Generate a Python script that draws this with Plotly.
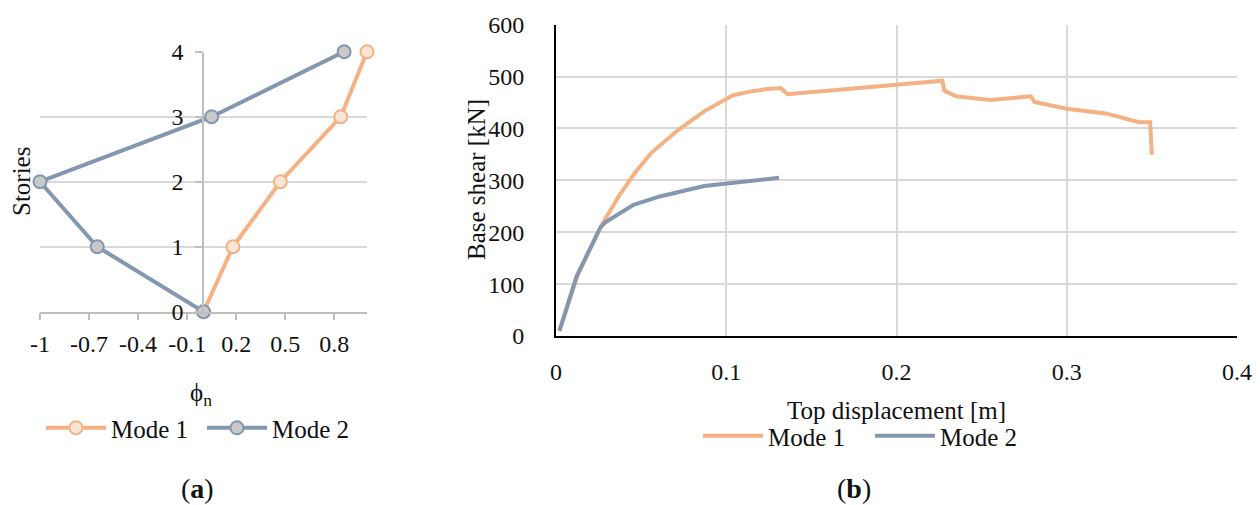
import plotly.graph_objects as go

# ---------------- data ----------------
stories = [0, 1, 2, 3, 4]
phi_mode1 = [0.0, 0.18, 0.47, 0.84, 1.0]
phi_mode2 = [0.0, -0.65, -1.0, 0.05, 0.86]
phi_ticks = [-1, -0.7, -0.4, -0.1, 0.2, 0.5, 0.8]
story_ticks = [0, 1, 2, 3, 4]

disp_mode1 = [0.002, 0.013, 0.027, 0.037, 0.0465, 0.056, 0.071, 0.087, 0.104, 0.114,
              0.124, 0.132, 0.136, 0.227, 0.228, 0.235, 0.255, 0.279, 0.281, 0.300,
              0.323, 0.3425, 0.349, 0.350]
shear_mode1 = [10, 120, 215, 270, 315, 353, 395, 433, 464, 471,
               476, 478, 466, 492, 473, 462, 455, 462, 451, 438,
               429, 412, 412, 349]
disp_mode2 = [0.002, 0.012, 0.026, 0.029, 0.0455, 0.061, 0.087, 0.100, 0.131]
shear_mode2 = [10, 114, 209, 219, 253, 269, 289, 294, 305]

disp_ticks = [0, 0.1, 0.2, 0.3, 0.4]
shear_ticks = [0, 100, 200, 300, 400, 500, 600]

ORANGE = "#F4B183"
ORANGE_FILL = "#FBE5D6"
BLUE = "#8497B0"
GRAY_FILL = "#C9C9C9"
FONT = "Liberation Serif"
TXT = "#111111"
W, H = 1260, 505

def px_x(p):
    return p / W

def px_y(p):
    return 1 - p / H

fig = go.Figure()

# ---------- panel (a) ----------
fig.add_trace(go.Scatter(
    x=phi_mode1, y=stories, mode="lines+markers", name="Mode 1",
    line=dict(color=ORANGE, width=4),
    marker=dict(size=13, color=ORANGE_FILL, line=dict(color=ORANGE, width=2)),
    xaxis="x", yaxis="y", legend="legend", cliponaxis=False))
fig.add_trace(go.Scatter(
    x=phi_mode2, y=stories, mode="lines+markers", name="Mode 2",
    line=dict(color=BLUE, width=4),
    marker=dict(size=13, color=GRAY_FILL, line=dict(color=BLUE, width=2)),
    xaxis="x", yaxis="y", legend="legend", cliponaxis=False))

# ---------- panel (b) ----------
fig.add_trace(go.Scatter(
    x=disp_mode1, y=shear_mode1, mode="lines", name="Mode 1",
    line=dict(color=ORANGE, width=4),
    xaxis="x2", yaxis="y2", legend="legend2", cliponaxis=False))
fig.add_trace(go.Scatter(
    x=disp_mode2, y=shear_mode2, mode="lines", name="Mode 2",
    line=dict(color=BLUE, width=4),
    xaxis="x2", yaxis="y2", legend="legend2", cliponaxis=False))

tickfont = dict(family=FONT, size=24, color=TXT)
labfont = dict(family=FONT, size=25, color=TXT)

def label(text, x, y, angle=0, font=labfont):
    return dict(text=text, x=px_x(x), y=px_y(y), xref="paper", yref="paper",
                xanchor="center", yanchor="middle", textangle=angle,
                showarrow=False, font=font)

fig.update_layout(
    width=W, height=H,
    margin=dict(l=0, r=0, t=0, b=0, autoexpand=False),
    paper_bgcolor="white", plot_bgcolor="white",
    font=dict(family=FONT, size=24, color=TXT),
    xaxis=dict(
        domain=[px_x(40), px_x(367)], anchor="y", range=[-1, 1], automargin=False,
        tickmode="array", tickvals=phi_ticks, ticktext=[str(v) for v in phi_ticks],
        showgrid=False, zeroline=False, showline=True, linecolor="#BFBFBF", linewidth=1.5,
        ticks="outside", ticklen=7, tickwidth=1.5, tickcolor="#BFBFBF",
        tickfont=tickfont, ticklabelstandoff=3),
    yaxis=dict(
        domain=[px_y(311.7), px_y(51.7)], anchor="free", position=px_x(203),
        range=[0, 4], tickmode="array", tickvals=story_ticks, automargin=False,
        showgrid=True, gridcolor="#D9D9D9", gridwidth=1.5, zeroline=False,
        showline=True, linecolor="#BFBFBF", linewidth=1.5,
        ticks="outside", ticklen=7, tickwidth=1.5, tickcolor="#BFBFBF",
        tickfont=tickfont, ticklabelstandoff=7),
    xaxis2=dict(
        domain=[px_x(556), px_x(1237)], anchor="y2", range=[0, 0.4], automargin=False,
        tickmode="array", tickvals=disp_ticks, ticktext=[f"{v:g}" for v in disp_ticks],
        showgrid=True, gridcolor="#D9D9D9", gridwidth=1.5, zeroline=False,
        showline=True, linecolor="black", linewidth=2, ticks="",
        tickfont=tickfont, ticklabelstandoff=13),
    yaxis2=dict(
        domain=[px_y(336), px_y(24.7)], anchor="x2", range=[0, 600], automargin=False,
        tickmode="array", tickvals=shear_ticks,
        showgrid=True, gridcolor="#D9D9D9", gridwidth=1.5, zeroline=False,
        showline=True, linecolor="black", linewidth=2, ticks="",
        tickfont=tickfont, ticklabelstandoff=25),
    legend=dict(
        orientation="h", x=px_x(41), xanchor="left", y=px_y(428), yanchor="middle",
        bgcolor="rgba(0,0,0,0)", font=labfont,
        itemwidth=60, entrywidth=86, itemclick=False, itemdoubleclick=False),
    legend2=dict(
        orientation="h", x=px_x(698), xanchor="left", y=px_y(436), yanchor="middle",
        bgcolor="rgba(0,0,0,0)", font=labfont,
        itemwidth=60, entrywidth=97, itemclick=False, itemdoubleclick=False),
    annotations=[
        label("Stories", 21, 182, angle=-90),
        label("ϕ<sub>n</sub>", 201, 394),
        label("Base shear [kN]", 476, 180, angle=-90),
        label("Top displacement [m]", 896, 410),
        label("(<b>a</b>)", 197, 488, font=dict(family=FONT, size=28, color=TXT)),
        label("(<b>b</b>)", 854, 488, font=dict(family=FONT, size=28, color=TXT)),
    ],
)

fig.write_html("out.html")
